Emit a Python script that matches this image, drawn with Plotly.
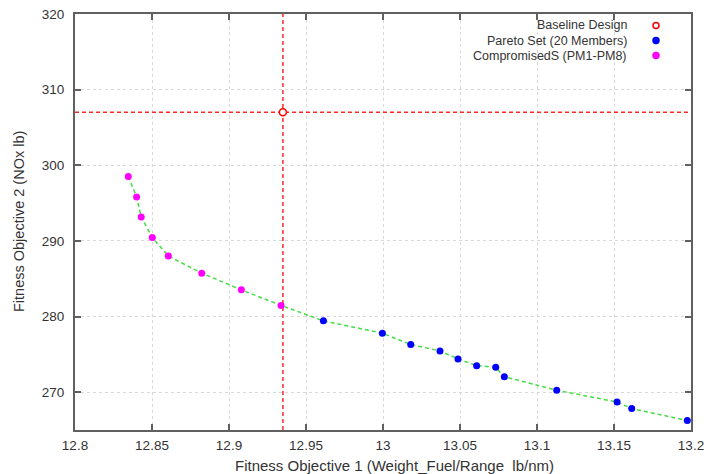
import plotly.graph_objects as go

# Data
baseline_x = [12.935]
baseline_y = [307.0]

compromised_x = [12.8346, 12.8400, 12.8430, 12.8502, 12.8606, 12.8823, 12.9080, 12.9338]
compromised_y = [298.5, 295.8, 293.15, 290.46, 288.0, 285.74, 283.53, 281.47]

pareto_x = [12.9613, 12.9996, 13.0180, 13.0370, 13.0487, 13.0608, 13.0732,
            13.0788, 13.1128, 13.1520, 13.1615, 13.1976]
pareto_y = [279.43, 277.80, 276.30, 275.46, 274.40, 273.50, 273.30,
            272.03, 270.26, 268.70, 267.84, 266.25]

x_ticks = [12.8, 12.85, 12.9, 12.95, 13.0, 13.05, 13.1, 13.15, 13.2]
x_tick_labels = ["12.8", "12.85", "12.9", "12.95", "13", "13.05", "13.1", "13.15", "13.2"]
y_ticks = [270, 280, 290, 300, 310, 320]

legend_labels = ["Baseline Design", "Pareto Set (20 Members)", "CompromisedS (PM1-PM8)"]
x_title = "Fitness Objective 1 (Weight_Fuel/Range  lb/nm)"
y_title = "Fitness Objective 2 (NOx lb)"

x_range = [12.8, 13.2]
y_range = [265.0, 320]

FONT = "Liberation Sans, Arial, sans-serif"
TXT = "#333333"

fig = go.Figure()

# front line through all members
front_x = compromised_x + pareto_x
front_y = compromised_y + pareto_y
fig.add_trace(go.Scatter(x=front_x, y=front_y, mode="lines",
                         line=dict(color="#44dd44", width=1.5, dash="4px,3px"),
                         showlegend=False, hoverinfo="skip"))

# baseline crosshair lines
fig.add_trace(go.Scatter(x=[baseline_x[0], baseline_x[0]], y=y_range, mode="lines",
                         line=dict(color="#ff2828", width=1.5, dash="4px,3px"),
                         showlegend=False, hoverinfo="skip"))
fig.add_trace(go.Scatter(x=x_range, y=[baseline_y[0], baseline_y[0]], mode="lines",
                         line=dict(color="#ff2828", width=1.5, dash="4px,3px"),
                         showlegend=False, hoverinfo="skip"))

fig.add_trace(go.Scatter(x=pareto_x, y=pareto_y, mode="markers",
                         marker=dict(color="#0000ff", size=7),
                         name=legend_labels[1], showlegend=False))
fig.add_trace(go.Scatter(x=compromised_x, y=compromised_y, mode="markers",
                         marker=dict(color="#ff00ff", size=7),
                         name=legend_labels[2], showlegend=False))
fig.add_trace(go.Scatter(x=baseline_x, y=baseline_y, mode="markers",
                         marker=dict(color="white", size=7,
                                     line=dict(color="#ff0000", width=1.5)),
                         name=legend_labels[0], showlegend=False))

# custom gnuplot-style legend (text right aligned, key on the right)
key_styles = [
    dict(fill="white", line="#ff0000"),
    dict(fill="#0000ff", line="#0000ff"),
    dict(fill="#ff00ff", line="#ff00ff"),
]
legend_y_px = [25.5, 40.5, 55.5]  # pixel rows from top of figure
H = 474
top_m, bot_m = 14, 44
plot_h = H - top_m - bot_m
W = 708
left_m, right_m = 75, 17
plot_w = W - left_m - right_m
shapes = []
annotations = []
for lbl, ypx, st in zip(legend_labels, legend_y_px, key_styles):
    yp = 1 - (ypx - top_m) / plot_h
    xt = (628 - left_m) / plot_w
    xk = (656 - left_m) / plot_w
    annotations.append(dict(x=xt, y=yp, xref="paper", yref="paper", text=lbl,
                            showarrow=False, xanchor="right", yanchor="middle",
                            borderpad=0,
                            font=dict(family=FONT, size=12.5, color=TXT)))
    shapes.append(dict(type="circle", xref="paper", yref="paper",
                       xsizemode="pixel", ysizemode="pixel",
                       xanchor=xk, yanchor=yp, x0=-3, x1=3, y0=-3, y1=3,
                       fillcolor=st["fill"], line=dict(color=st["line"], width=1.5)))

# axis titles as annotations (positioned as in reference)
annotations.append(dict(x=(395 - left_m) / plot_w, y=1 - (465 - top_m) / plot_h,
                        xref="paper", yref="paper", text=x_title, showarrow=False,
                        xanchor="center", yanchor="middle",
                        font=dict(family=FONT, size=15, color=TXT)))
annotations.append(dict(x=(19 - left_m) / plot_w, y=1 - (222 - top_m) / plot_h,
                        xref="paper", yref="paper", text=y_title, showarrow=False,
                        xanchor="center", yanchor="middle", textangle=-90,
                        font=dict(family=FONT, size=14.5, color=TXT)))

axis_common = dict(
    showline=True, linecolor="#606060", linewidth=2, mirror="ticks",
    ticks="inside", ticklen=6, tickwidth=1.5, tickcolor="#606060",
    showgrid=True, gridcolor="#d8d8d8", griddash="dot", gridwidth=1,
    zeroline=False, automargin=False,
    tickfont=dict(family=FONT, size=13.5, color=TXT),
)

fig.update_layout(
    width=W, height=H,
    margin=dict(l=left_m, r=right_m, t=top_m, b=bot_m),
    paper_bgcolor="white", plot_bgcolor="white",
    showlegend=False,
    shapes=shapes, annotations=annotations,
    xaxis=dict(range=x_range, tickvals=x_ticks, ticktext=x_tick_labels,
               ticklabelstandoff=2, **axis_common),
    yaxis=dict(range=y_range, tickvals=y_ticks,
               ticklabelstandoff=6, **axis_common),
)

fig.write_html("out.html")
